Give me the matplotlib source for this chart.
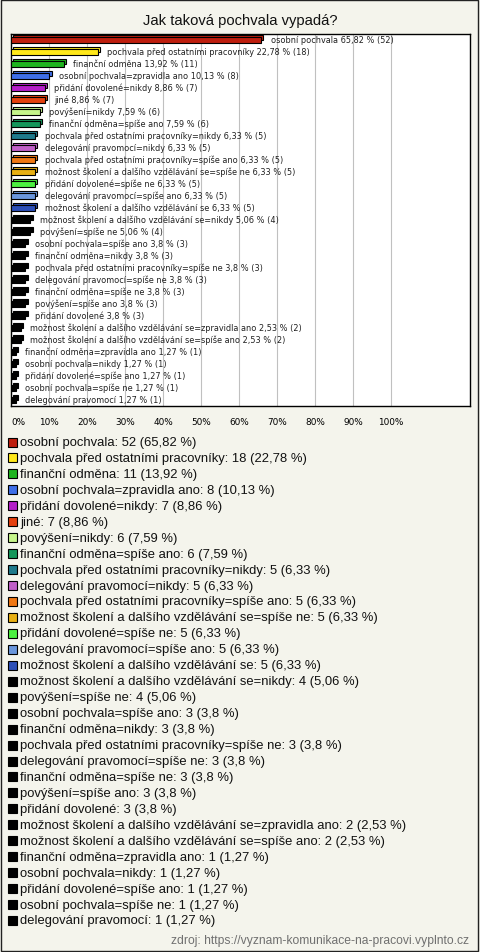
import matplotlib.pyplot as plt
from matplotlib.patches import Rectangle

categories = [
    'osobní pochvala', 'pochvala před ostatními pracovníky', 'finanční odměna',
    'osobní pochvala=zpravidla ano', 'přidání dovolené=nikdy', 'jiné',
    'povýšení=nikdy', 'finanční odměna=spíše ano',
    'pochvala před ostatními pracovníky=nikdy', 'delegování pravomocí=nikdy',
    'pochvala před ostatními pracovníky=spíše ano',
    'možnost školení a dalšího vzdělávání se=spíše ne',
    'přidání dovolené=spíše ne', 'delegování pravomocí=spíše ano',
    'možnost školení a dalšího vzdělávání se',
    'možnost školení a dalšího vzdělávání se=nikdy', 'povýšení=spíše ne',
    'osobní pochvala=spíše ano', 'finanční odměna=nikdy',
    'pochvala před ostatními pracovníky=spíše ne',
    'delegování pravomocí=spíše ne', 'finanční odměna=spíše ne',
    'povýšení=spíše ano', 'přidání dovolené',
    'možnost školení a dalšího vzdělávání se=zpravidla ano',
    'možnost školení a dalšího vzdělávání se=spíše ano',
    'finanční odměna=zpravidla ano', 'osobní pochvala=nikdy',
    'přidání dovolené=spíše ano', 'osobní pochvala=spíše ne',
    'delegování pravomocí',
]
counts = [52, 18, 11, 8, 7, 7, 6, 6, 5, 5, 5, 5, 5, 5, 5, 4, 4,
          3, 3, 3, 3, 3, 3, 3, 2, 2, 1, 1, 1, 1, 1]
percents = ['65,82', '22,78', '13,92', '10,13', '8,86', '8,86', '7,59', '7,59',
            '6,33', '6,33', '6,33', '6,33', '6,33', '6,33', '6,33', '5,06', '5,06',
            '3,8', '3,8', '3,8', '3,8', '3,8', '3,8', '3,8', '2,53', '2,53',
            '1,27', '1,27', '1,27', '1,27', '1,27']
colors = ['#BE1E0E', '#FFE81A', '#1EB41E', '#3F6FE8', '#B41EC8', '#E4400E',
          '#C6F58A', '#14965A', '#1F7A8C', '#C060C8', '#F07814', '#E8B014',
          '#4CF040', '#6A96DC', '#2C4FB8'] + ['#000000'] * 16
ticks = [0, 10, 20, 30, 40, 50, 60, 70, 80, 90, 100]

W, H = 480, 953
bg = '#F4F4EC'
fig = plt.figure(figsize=(W / 100, H / 100), dpi=100, facecolor=bg)
fig.patches.append(Rectangle((0.5 / W, 1.5 / H), (W - 2.5) / W, (H - 2.5) / H,
                             transform=fig.transFigure, fill=False,
                             edgecolor='#222222', lw=1))

ax = fig.add_axes([11 / W, 1 - 407 / H, 459 / W, 372 / H])
ax.set_facecolor('white')
ax.set_xlim(0, 459 / 3.8)
ax.set_ylim(len(categories) - 0.5, -0.5)

vals = [float(p.replace(',', '.')) for p in percents]
ys = list(range(len(categories)))
# pseudo 3D: offset back face, then front face
ax.barh([y - 0.17 for y in ys], vals, left=0.6, height=0.42, color=colors,
        edgecolor='black', linewidth=0.8, zorder=2)
ax.barh(ys, vals, height=0.42, color=colors, edgecolor='black',
        linewidth=0.8, zorder=3)
for y, v, c, n, p in zip(ys, vals, categories, counts, percents):
    ax.text(v + 2.5, y - 0.05, f'{c} {p} % ({n})', fontsize=5.9,
            family='DejaVu Sans', color='#202020', va='center', zorder=4)

ax.set_xticks(ticks)
ax.set_xticklabels([f'{t}%' for t in ticks], fontsize=6.4, family='DejaVu Sans')
ax.get_xticklabels()[0].set_horizontalalignment('left')
ax.tick_params(axis='x', length=0, pad=8)
ax.set_yticks([])
ax.grid(axis='x', color='#C0C0C0', lw=0.8, zorder=1)
ax.set_axisbelow(True)
for s in ax.spines.values():
    s.set_color('black')
    s.set_linewidth(1)

fig.text(0.5, 1 - 21 / H, 'Jak taková pochvala vypadá?', ha='center',
         va='center', fontsize=10.6, family='Liberation Sans', color='#111111')

for k, (c, n, p, col) in enumerate(zip(categories, counts, percents, colors)):
    yc = 1 - (443 + k * 15.95) / H
    fig.patches.append(Rectangle((8 / W, yc - 4.5 / H), 9 / W, 9 / H,
                                 transform=fig.transFigure, facecolor=col,
                                 edgecolor='black', lw=0.8))
    fig.text(20 / W, yc, f'{c}: {n} ({p} %)', fontsize=9.4,
             family='Liberation Sans', color='#111111', va='center')

fig.text(469 / W, 1 - 941 / H,
         'zdroj: https://vyznam-komunikace-na-pracovi.vyplnto.cz',
         ha='right', va='center', fontsize=8.7, family='Liberation Sans',
         color='#707070')

fig.savefig('out.png', dpi=100, facecolor=bg)
